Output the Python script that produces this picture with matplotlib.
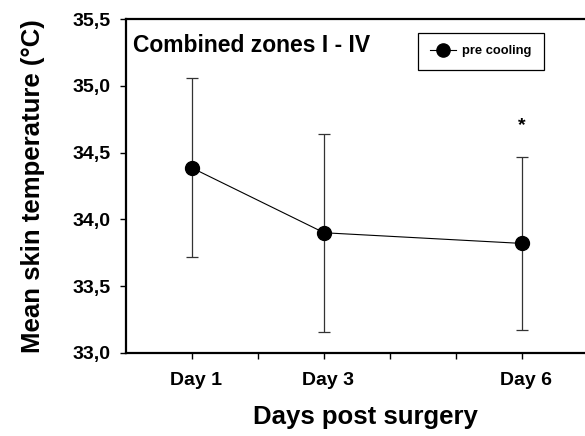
import numpy as np
import matplotlib
matplotlib.use("Agg")
import matplotlib.pyplot as plt
import matplotlib.transforms as mtransforms
from matplotlib.lines import Line2D

plt.rcParams['font.family'] = ['Liberation Sans', 'DejaVu Sans']
plt.rcParams['font.weight'] = 'bold'

# data
days = [1, 3, 6]
day_labels = ['Day 1', 'Day 3', 'Day 6']
mean_temp = [34.385, 33.90, 33.82]
sd_temp = [0.67, 0.74, 0.65]
star_day = 6
star_y = 34.70

fig = plt.figure(figsize=(5.85, 4.36), dpi=100)
ax = fig.add_axes([0.2154, 0.1904, 0.7846, 0.766])

ax.errorbar(days, mean_temp, yerr=sd_temp, color='black', lw=0.8,
            marker='o', ms=10, mfc='black', mec='black',
            ecolor='#333333', elinewidth=0.9, capsize=4, capthick=0.9)

ax.text(star_day, star_y, '*', ha='center', va='center', fontsize=14, fontweight='bold')
ax.text(0.015, 0.922, 'Combined zones I - IV', transform=ax.transAxes,
        ha='left', va='center', fontsize=16.5, fontweight='bold')

ax.set_xlim(0, 6.95)
ax.set_ylim(33.0, 35.5)
ax.set_xticks([1, 2, 3, 4, 5, 6])
ax.set_xticklabels(['Day 1', '', 'Day 3', '', '', 'Day 6'])
yt = np.arange(33.0, 35.51, 0.5)
ax.set_yticks(yt)
ax.set_yticklabels([f'{v:.1f}'.replace('.', ',') for v in yt])

for side in ['left', 'bottom', 'top']:
    ax.spines[side].set_linewidth(1.6)
ax.spines['right'].set_visible(False)
ax.tick_params(axis='both', direction='out', length=4, width=1.0, labelsize=14)
ax.tick_params(axis='x', pad=10)
ax.tick_params(axis='y', pad=7)

# labels in the original sit a few pixels right of their ticks
shift = mtransforms.ScaledTranslation(0.04, 0, fig.dpi_scale_trans)
for lab in ax.get_xticklabels():
    lab.set_transform(lab.get_transform() + shift)

ax.set_xlabel('Days post surgery', fontsize=18.5, fontweight='bold')
ax.xaxis.set_label_coords(0.5218, -0.155)
ax.set_ylabel('Mean skin temperature (°C)', fontsize=18.5, fontweight='bold', labelpad=20)

handle = Line2D([], [], color='black', lw=0.8, marker='o', ms=9.5, mfc='black')
leg = ax.legend([handle], ['pre cooling'], loc='upper left',
                bbox_to_anchor=(0.636, 0.958), borderaxespad=0,
                fancybox=False, edgecolor='black', framealpha=1,
                prop={'size': 9.3, 'weight': 'bold'}, handlelength=2.0,
                borderpad=0.95, handletextpad=0.5)
leg.get_frame().set_linewidth(0.9)

fig.savefig('out.png', dpi=100)
